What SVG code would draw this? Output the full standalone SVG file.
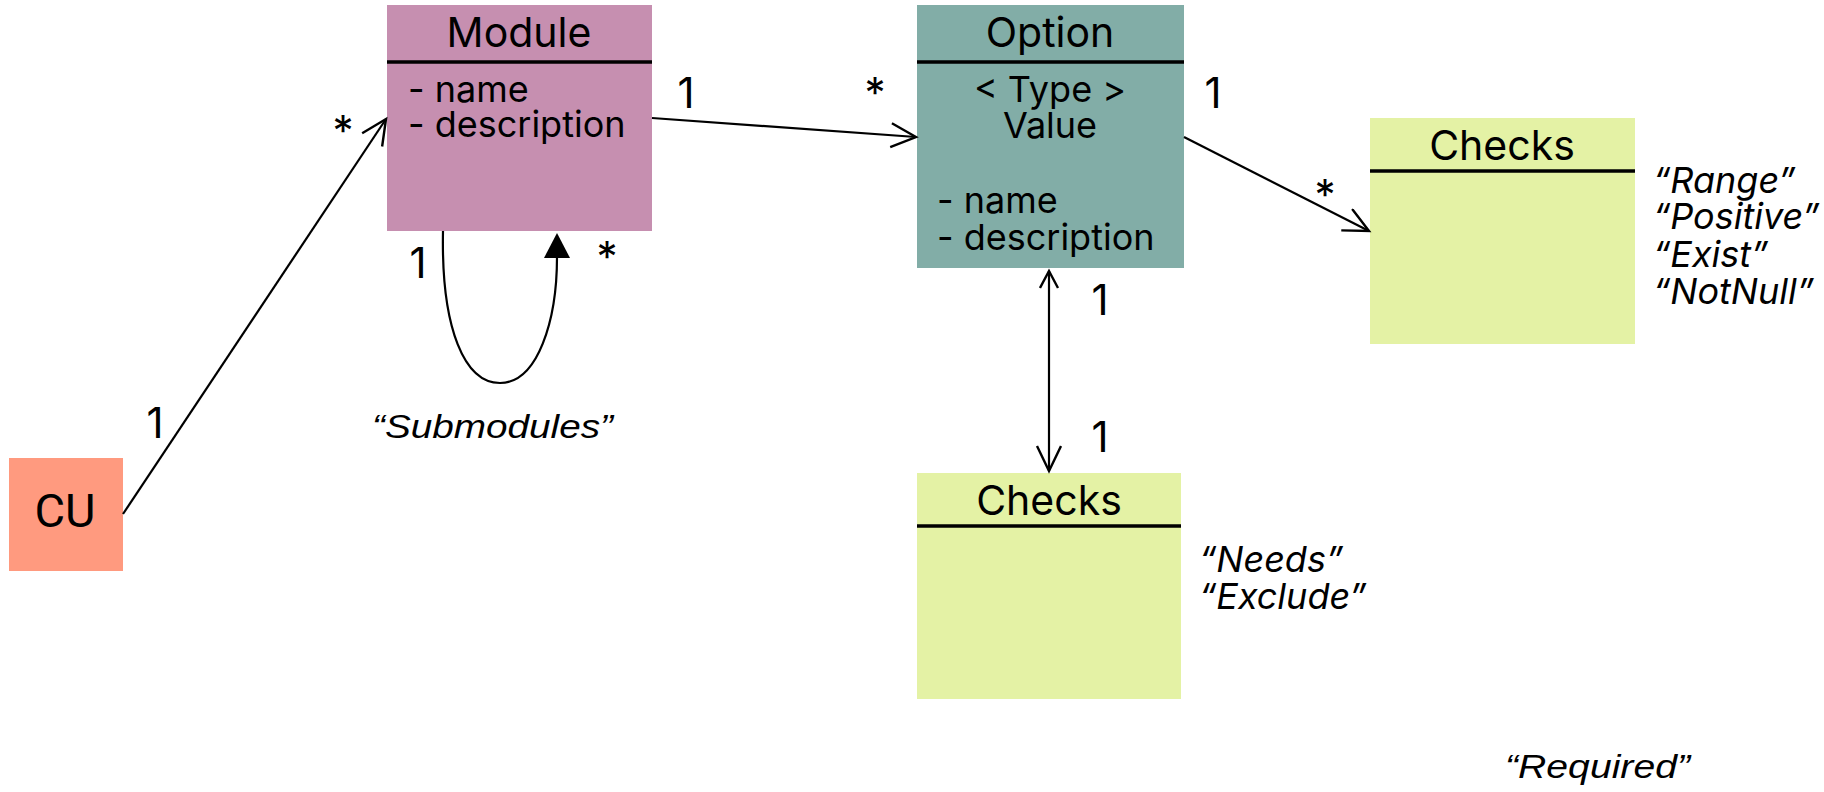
<svg xmlns="http://www.w3.org/2000/svg" width="1824" height="792" viewBox="0 0 1824 792">
<style>
.title{font-family:Inter,"Liberation Sans",sans-serif;font-size:41px;fill:#000;text-anchor:middle}
.body{font-family:Inter,"Liberation Sans",sans-serif;font-size:36px;fill:#000}
.mult{font-family:Inter,"Liberation Sans",sans-serif;font-size:42px;fill:#000}
.note{font-family:Inter,"Liberation Sans",sans-serif;font-size:36px;font-style:italic;fill:#000}
.note2{font-family:"Liberation Sans",Arial,sans-serif;font-size:34px;font-style:italic;fill:#000}
.div{stroke:#000;stroke-width:3.5}
.conn{stroke:#000;stroke-width:2.2;fill:none}
</style>
<defs>
<marker id="open" markerUnits="userSpaceOnUse" markerWidth="40" markerHeight="40" refX="26" refY="13" orient="auto">
<path d="M1,1 L26,13 L1,25" fill="none" stroke="#000" stroke-width="2.4"/>
</marker>
<marker id="openS" markerUnits="userSpaceOnUse" markerWidth="30" markerHeight="30" refX="18" refY="10" orient="auto-start-reverse">
<path d="M1,1 L18,10 L1,19" fill="none" stroke="#000" stroke-width="2.4"/>
</marker>
</defs>

<g id="module">
<rect x="387" y="5" width="265" height="226" fill="#C68FB0"/>
<line class="div" x1="387" y1="62" x2="652" y2="62"/>
<text class="title" x="519" y="47">Module</text>
<text class="body" x="408" y="102">- name</text>
<text class="body" x="408" y="137">- description</text>
</g>

<g id="option">
<rect x="917" y="5" width="267" height="263" fill="#82ADA7"/>
<line class="div" x1="917" y1="62" x2="1184" y2="62"/>
<text class="title" x="1050" y="47">Option</text>
<text class="body" x="1050" y="102" text-anchor="middle">&lt; Type &gt;</text>
<text class="body" x="1050" y="138" text-anchor="middle">Value</text>
<text class="body" x="937" y="213">- name</text>
<text class="body" x="937" y="250">- description</text>
</g>

<g id="checks-right">
<rect x="1370" y="118" width="265" height="226" fill="#E4F2A5"/>
<line class="div" x1="1370" y1="171" x2="1635" y2="171"/>
<text class="title" x="1502" y="160">Checks</text>
<text class="note" x="1653" y="193">“Range”</text>
<text class="note" x="1653" y="229">“Positive”</text>
<text class="note" x="1653" y="267">“Exist”</text>
<text class="note" x="1653" y="304">“NotNull”</text>
</g>

<g id="checks-bottom">
<rect x="917" y="473" width="264" height="226" fill="#E4F2A5"/>
<line class="div" x1="917" y1="526" x2="1181" y2="526"/>
<text class="title" x="1049" y="515">Checks</text>
<text class="note" x="1199" y="572">“Needs”</text>
<text class="note" x="1199" y="609">“Exclude”</text>
</g>

<g id="cu">
<rect x="9" y="458" width="114" height="113" fill="#FF9A7F"/>
<text x="65" y="527" font-family="Roboto,sans-serif" font-size="47" text-anchor="middle">CU</text>
</g>

<g id="connectors">
<line class="conn" x1="123" y1="514" x2="386" y2="119" marker-end="url(#open)"/>
<line class="conn" x1="652" y1="118" x2="916" y2="137" marker-end="url(#open)"/>
<line class="conn" x1="1184" y1="137" x2="1369" y2="231" marker-end="url(#open)"/>
<line class="conn" x1="1049" y1="271" x2="1049" y2="471" marker-start="url(#openS)" marker-end="url(#open)"/>
<path class="conn" d="M443,231 C441,330 465,383 500,383 C538,383 557,320 557,257"/>
<polygon points="557,233 544,258 570,258" fill="#000"/>
</g>

<g id="labels">
<text class="mult" x="155" y="438" text-anchor="middle">1</text>
<text class="mult" x="343" y="146" text-anchor="middle">*</text>
<text class="mult" x="686" y="108" text-anchor="middle">1</text>
<text class="mult" x="875" y="108" text-anchor="middle">*</text>
<text class="mult" x="1213" y="108" text-anchor="middle">1</text>
<text class="mult" x="1325" y="210" text-anchor="middle">*</text>
<text class="mult" x="1100" y="315" text-anchor="middle">1</text>
<text class="mult" x="1100" y="452" text-anchor="middle">1</text>
<text class="mult" x="418" y="278" text-anchor="middle">1</text>
<text class="mult" x="607" y="272" text-anchor="middle">*</text>
<text class="note2" x="372" y="438" textLength="241" lengthAdjust="spacingAndGlyphs">“Submodules”</text>
<text class="note2" x="1505" y="778" textLength="185" lengthAdjust="spacingAndGlyphs">“Required”</text>
</g>
</svg>
